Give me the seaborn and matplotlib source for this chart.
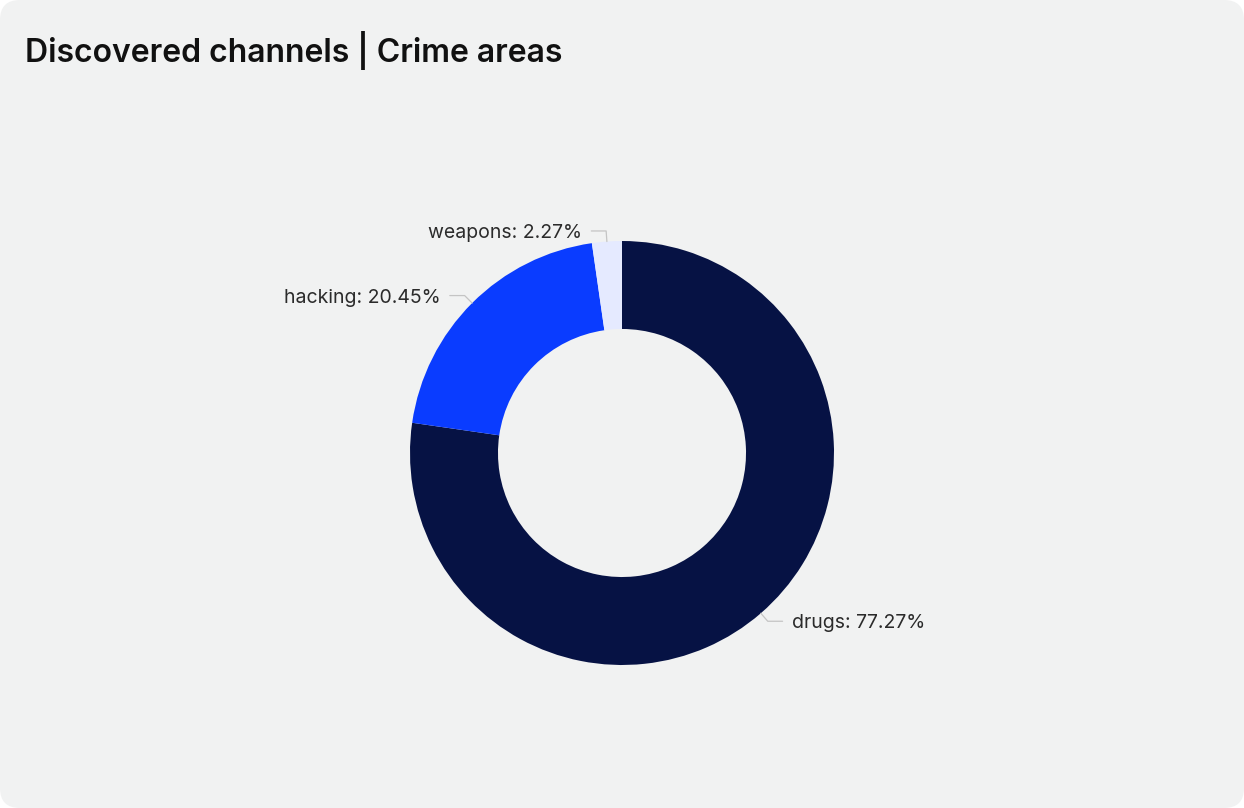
import numpy as np
import matplotlib
matplotlib.use('Agg')
import matplotlib.pyplot as plt
from matplotlib.patches import FancyBboxPatch
import seaborn as sns

# data
categories = ['drugs', 'hacking', 'weapons']
shares = [77.27, 20.45, 2.27]
colors = ['#061244', '#0a3cff', '#e5eaff']

sns.set_theme(style='white')
plt.rcParams['font.family'] = ['Inter', 'DejaVu Sans']

W, H = 1244, 808
fig = plt.figure(figsize=(W / 100, H / 100), dpi=100)
fig.patch.set_facecolor('white')

# rounded card background
card = FancyBboxPatch((0, 0), 1, 1, boxstyle='round,pad=0,rounding_size=0.016',
                      transform=fig.transFigure, facecolor='#f1f2f2', edgecolor='none',
                      mutation_aspect=W / H, zorder=-10)
fig.patches.append(card)

fig.text(25 / W, 1 - 51 / H, 'Discovered channels | Crime areas', fontsize=23,
         fontweight='semibold', color='#111111', va='center', ha='left')

# donut: centre (622, 453) px, outer radius 212 px
cx, cy, R = 622, 453, 212
ax = fig.add_axes([(cx - R) / W, (H - cy - R) / H, 2 * R / W, 2 * R / H])
ax.set_zorder(5)
ax.set_facecolor('none')
wedges, _ = ax.pie(shares, colors=colors, startangle=90, counterclock=False,
                   radius=1, wedgeprops=dict(width=0.415, edgecolor='none'))
ax.set_xlim(-1, 1)
ax.set_ylim(-1, 1)
ax.axis('off')

for w, cat, val in zip(wedges, categories, shares):
    ang = np.deg2rad((w.theta1 + w.theta2) / 2)
    x0, y0 = np.cos(ang), np.sin(ang)
    x1, y1 = 1.05 * x0, 1.05 * y0
    side = 1 if x0 > 0 else -1
    x2 = x1 + side * 0.07
    ax.plot([x0, x1, x2], [y0, y1, y1], color='#c4c4c4', lw=0.9, clip_on=False)
    ax.text(x2 + side * 0.045, y1 - 0.01, f'{cat}: {val:.2f}%', fontsize=14, color='#2b2b2b',
            ha='left' if side > 0 else 'right', va='center', clip_on=False)

fig.savefig('out.png', dpi=100, facecolor=fig.get_facecolor())
